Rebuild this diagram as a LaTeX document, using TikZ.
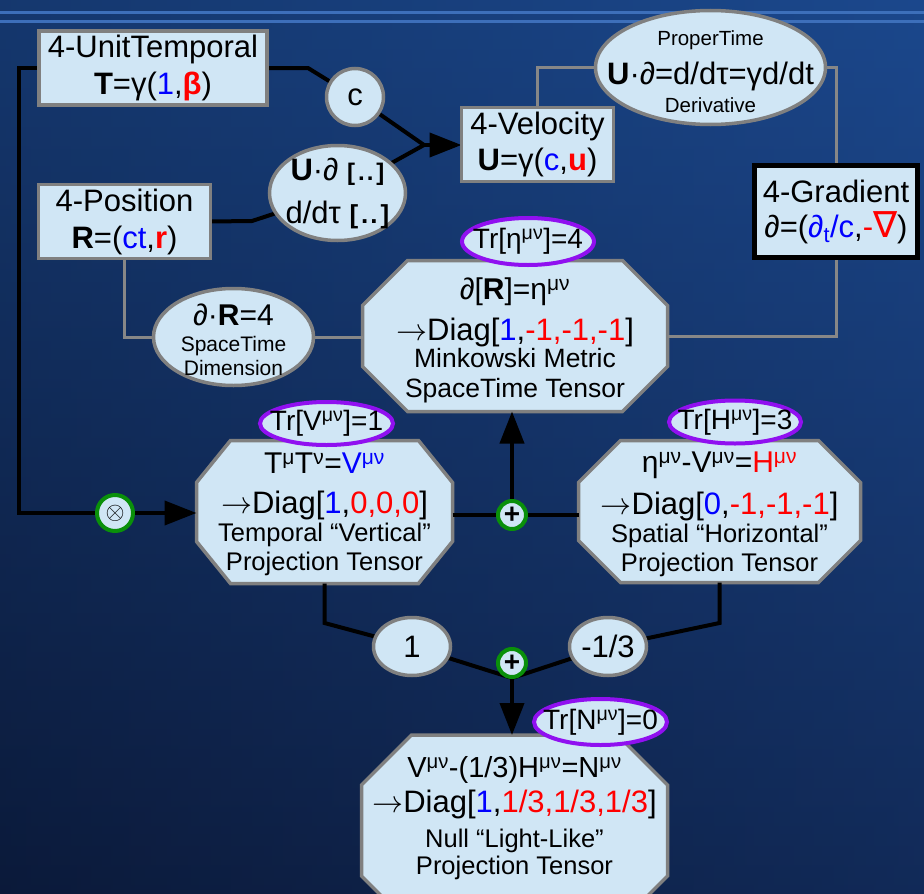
\documentclass[tikz,border=0pt]{standalone}
\usepackage{graphicx}
\usepackage{fontspec}
\setmainfont{Liberation Sans}
\newfontfamily\dvs{DejaVu Sans}
\usetikzlibrary{shapes.geometric,arrows.meta}
\pgfdeclarelayer{back}
\pgfdeclarelayer{conn}
\pgfsetlayers{back,conn,main}
\definecolor{boxfill}{HTML}{D0E6F5}
\definecolor{bordgray}{HTML}{808080}
\definecolor{linegray}{HTML}{878787}
\definecolor{trpurple}{HTML}{9010F0}
\definecolor{opgreen}{HTML}{0A900A}
\definecolor{bgtop}{HTML}{1B4A8F}
\definecolor{bgmid}{HTML}{112B5C}
\definecolor{bgbot}{HTML}{0C1C3E}
\definecolor{bgright}{HTML}{1C4488}
\definecolor{bgleft}{HTML}{0A1632}
\definecolor{stripecol}{HTML}{3D6FBA}
\definecolor{txtblue}{HTML}{0000FF}
\definecolor{txtred}{HTML}{FF0000}
\newcommand\tblue[1]{\textcolor{txtblue}{#1}}
\newcommand\tred[1]{\textcolor{txtred}{#1}}
\newcommand\sux[1]{\textsuperscript{#1}}
\newcommand\rarr{\resizebox{31pt}{!}{$\rightarrow$}}
\newcommand\bdots{[\kern3pt.\kern2pt.\kern3pt]}
\newcommand\octpath[3]{%
  \draw[octdraw] ([xshift=#2]#1.north west) -- ([xshift=-#2]#1.north east)
    -- ([yshift=-#3]#1.north east) -- ([yshift=#3]#1.south east)
    -- ([xshift=-#2]#1.south east) -- ([xshift=#2]#1.south west)
    -- ([yshift=#3]#1.south west) -- ([yshift=-#3]#1.north west) -- cycle;}
\begin{document}
\begin{tikzpicture}[x=1pt,y=-1pt,
  box/.style={rectangle, draw=bordgray, line width=3.5pt, fill=boxfill, inner sep=0pt, outer sep=0pt, align=center},
  ell/.style={ellipse, draw=bordgray, line width=3.5pt, fill=boxfill, inner sep=0pt, outer sep=0pt},
  trell/.style={ellipse, draw=trpurple, line width=4pt, fill=boxfill, inner sep=0pt, outer sep=0pt},
  octnode/.style={rectangle, draw=none, inner sep=0pt, outer sep=0pt},
  octdraw/.style={draw=bordgray, line width=3.5pt, fill=boxfill, line join=miter},
  txt/.style={align=center, inner sep=0pt},
  opc/.style={circle, draw=opgreen, line width=4pt, fill=boxfill, inner sep=0pt, outer sep=0pt},
  blk/.style={line width=4pt, draw=black},
  gry/.style={line width=3pt, draw=linegray},
  arr/.style={blk, -{Triangle[length=32pt,width=24pt]}}]
\useasboundingbox (0,0) rectangle (924,894);
\begin{pgfonlayer}{back}
  \shade[top color=bgtop, middle color=bgmid, bottom color=bgbot] (0,0) rectangle (924,894);
  \shade[left color=bgleft, right color=bgright, fill opacity=0.35] (0,0) rectangle (924,894);
  \fill[stripecol] (0,11) rectangle (924,14);
  \fill[stripecol] (0,20) rectangle (924,23);
\end{pgfonlayer}

% boxes
\node[box, minimum width=228pt, minimum height=74pt, font=\fontsize{31}{37}\selectfont] (ut) at (153,68)
  {4-UnitTemporal\\\textbf{T}=γ(\tblue{1},\tred{\textbf{β}})};
\node[box, minimum width=172pt, minimum height=74pt, font=\fontsize{31}{37}\selectfont] (pos) at (124.5,221.5)
  {4-Position\\\textbf{R}=(\tblue{ct},\tred{\textbf{r}})};
\node[box, minimum width=152pt, minimum height=74pt, font=\fontsize{31}{36}\selectfont] (vel) at (537.5,144.5)
  {4-Velocity\\\textbf{U}=γ(\tblue{c},\tred{\textbf{u}})};
\node[box, draw=black, line width=4.5pt, minimum width=163pt, minimum height=92pt, font=\fontsize{31}{35}\selectfont] (grad) at (836,211.5)
  {4-Gradient\\∂=(\tblue{∂\textsubscript{t}/c},\tred{-{\dvs\fontsize{36}{35}\selectfont ∇}})};

% ellipses and circles
\node[ell, circle, minimum size=57pt, font=\fontsize{31}{31}\selectfont] (c) at (355,97) {c};
\node[ell, minimum width=136pt, minimum height=95pt] (ud) at (337.5,193) {};
\node[ell, minimum width=230pt, minimum height=114pt] (pt) at (710.5,67.5) {};
\node[ell, minimum width=160pt, minimum height=97pt] (dr) at (233.5,337) {};
\node[ell, minimum width=77pt, minimum height=58pt, font=\fontsize{31}{31}\selectfont] (one) at (412,646.5) {1};
\node[ell, minimum width=77pt, minimum height=58pt, font=\fontsize{31}{31}\selectfont] (third) at (608,646.5) {-1/3};

% octagon frames
\node[octnode, minimum width=305pt, minimum height=151pt] (mink) at (515,336) {};
\node[octnode, minimum width=256pt, minimum height=143pt] (temp) at (324.5,512) {};
\node[octnode, minimum width=282pt, minimum height=142pt] (spat) at (719.5,511.5) {};
\node[octnode, minimum width=306pt, minimum height=191pt] (null) at (514.5,830.5) {};

% trace ellipses
\node[trell, minimum width=132pt, minimum height=47pt] (tr4) at (528,241.5) {};
\node[trell, minimum width=133pt, minimum height=43pt] (trv) at (326.5,423.5) {};
\node[trell, minimum width=132pt, minimum height=43pt] (trh) at (735,422) {};
\node[trell, minimum width=133pt, minimum height=46pt] (trn) at (600.5,722) {};

% operator circles
\node[opc, minimum size=36pt] (ot) at (115,513) {\resizebox{19pt}{!}{$\otimes$}};
\node[opc, minimum size=28pt, font=\bfseries\fontsize{28}{28}\selectfont] (p1) at (512,515) {+};
\node[opc, minimum size=28pt, font=\bfseries\fontsize{28}{28}\selectfont] (p2) at (512,663) {+};

% bend coordinates
\coordinate (k0) at (19,68);
\coordinate (k0b) at (19,513);
\coordinate (k1) at (308,68);
\coordinate (j1) at (424,145);
\coordinate (k2) at (252,221);
\coordinate (k3) at (324.5,623);
\coordinate (k4) at (719.5,623);
\coordinate (j2) at (512,678);

\begin{pgfonlayer}{conn}
  \octpath{mink}{45pt}{45pt}
  \octpath{temp}{34pt}{42pt}
  \octpath{spat}{42pt}{42pt}
  \octpath{null}{50pt}{50pt}
  % black connectors
  \draw[blk] (ut.west) -- (k0) -- (k0b) -- (ot);
  \draw[arr] (ot) -- (ot -| temp.west);
  \draw[blk] (ut.east) -- (k1) -- (c);
  \draw[blk] (c) -- (j1);
  \draw[blk] (pos.east) -- (k2) -- (ud);
  \draw[blk] (ud) -- (j1);
  \draw[arr] (j1) -- (j1 -| vel.west);
  \draw[blk] (p1 -| temp.east) -- (p1) -- (p1 -| spat.west);
  \draw[arr] (p1) -- (p1 |- mink.south);
  \draw[blk] (temp.south) -- (k3) -- (one);
  \draw[blk] (one) -- (j2);
  \draw[blk] (spat.south) -- (k4) -- (third);
  \draw[blk] (third) -- (j2);
  \draw[arr] (j2) -- (j2 |- null.north);
  % gray connectors
  \draw[gry] (vel.north) |- (pt);
  \draw[gry] (pt) -| (grad.north);
  \draw[gry] (grad.south) |- (mink);
  \draw[gry] (pos.south) |- (dr);
  \draw[gry] (dr.east) -- (dr.east -| mink.west);
\end{pgfonlayer}

% texts inside shapes
\node[txt, font=\fontsize{31}{43}\selectfont] (udt) at (337.5,193.5)
  {\textbf{U}·∂ {\fontsize{24}{43}\selectfont\bfseries\bdots}\\d/dτ {\fontsize{26}{43}\selectfont\bfseries\bdots}};
\node[txt, font=\fontsize{31}{28}\selectfont] (ptt) at (710.5,72)
  {{\fontsize{20.5}{28}\selectfont ProperTime}\\[11pt]\textbf{U}·∂=d/dτ=γd/dt\\{\fontsize{20.5}{28}\selectfont Derivative}};
\node[txt, font=\fontsize{30}{24}\selectfont] (drt) at (233.5,340)
  {∂·\textbf{R}=4\\[2pt]{\fontsize{21}{24}\selectfont SpaceTime}\\{\fontsize{21}{24}\selectfont Dimension}};
\node[txt, font=\fontsize{28}{28}\selectfont] at (tr4) {Tr[η\sux{μν}]=4};
\node[txt, font=\fontsize{28}{28}\selectfont] at (trv) {Tr[V\sux{μν}]=1};
\node[txt, font=\fontsize{28}{28}\selectfont] at (trh) {Tr[H\sux{μν}]=3};
\node[txt, font=\fontsize{28}{28}\selectfont] at (trn) {Tr[N\sux{μν}]=0};
\node[txt, font=\fontsize{31}{27}\selectfont] (minkt) at (515,340.5)
  {{\fontsize{30}{27}\selectfont ∂[\textbf{R}]=η\sux{μν}}\\[11pt]\rarr Diag[\tblue{1},\tred{-1,-1,-1}]\\{\fontsize{26.5}{27}\selectfont Minkowski Metric}\\[3pt]{\fontsize{26.5}{27}\selectfont SpaceTime Tensor}};
\node[txt, font=\fontsize{31}{28}\selectfont] (tempt) at (324.5,514)
  {{\fontsize{30}{28}\selectfont T\sux{μ}T\sux{ν}=\tblue{V\sux{μν}}}\\[12pt]\rarr Diag[\tblue{1},\tred{0,0,0}]\\{\fontsize{25.5}{28}\selectfont Temporal “Vertical”}\\[1pt]{\fontsize{25.5}{28}\selectfont Projection Tensor}};
\node[txt, font=\fontsize{31}{28}\selectfont] (spatt) at (719.5,514)
  {{\fontsize{30}{28}\selectfont η\sux{μν}-V\sux{μν}=\tred{H\sux{μν}}}\\[12pt]\rarr Diag[\tblue{0},\tred{-1,-1,-1}]\\{\fontsize{25.5}{28}\selectfont Spatial “Horizontal”}\\[1pt]{\fontsize{25.5}{28}\selectfont Projection Tensor}};
\node[txt, font=\fontsize{31}{35}\selectfont] (nullt) at (514.5,818)
  {{\fontsize{29}{35}\selectfont V\sux{μν}-(1/3)H\sux{μν}=N\sux{μν}}\\\rarr Diag[\tblue{1},\tred{1/3,1/3,1/3}]\\{\fontsize{25.5}{35}\selectfont Null “Light-Like”}\\[-8pt]{\fontsize{25.5}{35}\selectfont Projection Tensor}};
\end{tikzpicture}
\end{document}
